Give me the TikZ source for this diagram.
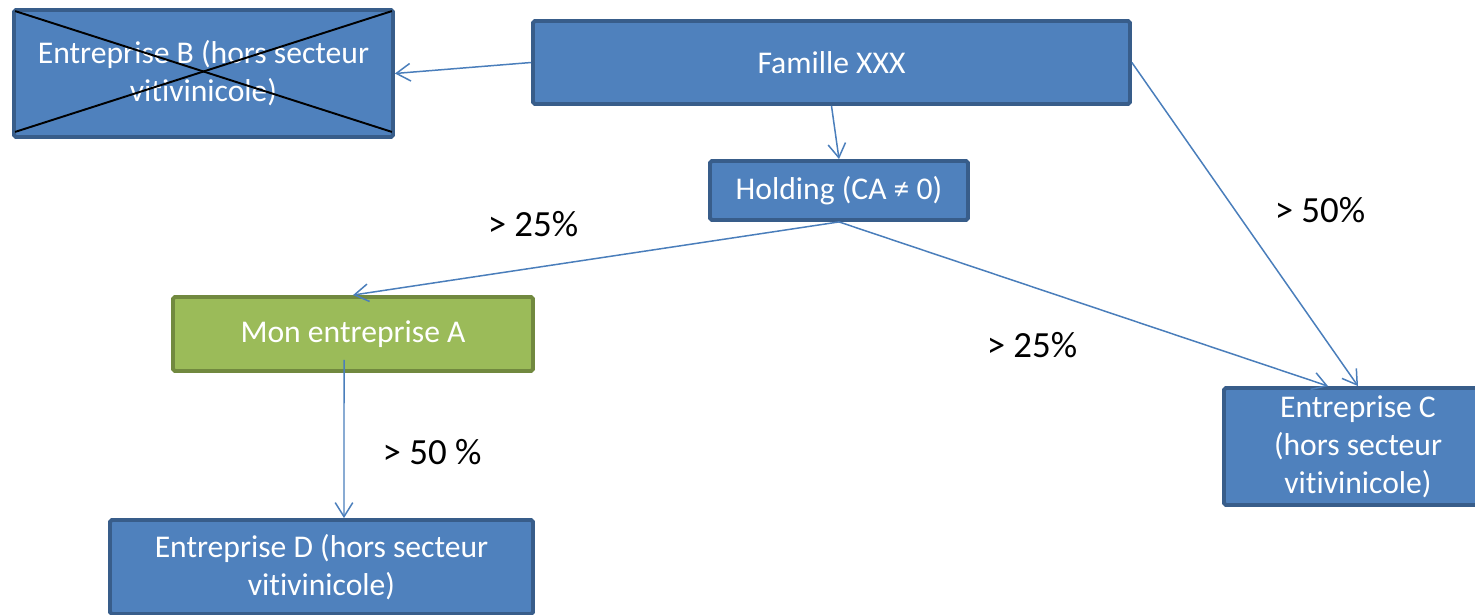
\documentclass[tikz,border=0pt]{standalone}
\usepackage{fontspec}
\setmainfont{Carlito}[Ligatures={NoCommon}]
\usepackage{tikz}
\usetikzlibrary{shapes,calc}
\usetikzlibrary{arrows.meta}
\definecolor{bleu}{HTML}{4F81BD}
\definecolor{bleufonce}{HTML}{385D8A}
\definecolor{vert}{HTML}{9BBB59}
\definecolor{vertfonce}{HTML}{71893F}
\definecolor{fleche}{HTML}{4A7EBB}
\tikzstyle{societe} = [rectangle, rounded corners=1pt, fill=bleu, draw=bleufonce, line width=2.2pt,
inner sep=0pt, text=white, align=center, font=\fontsize{18}{21.6}\selectfont]
\tikzstyle{maison} = [societe, fill=vert, draw=vertfonce]
\tikzstyle{taux} = [font=\fontsize{21}{25}\selectfont, inner sep=0pt]
\tikzstyle{arrow} = [draw=fleche, line width=0.85pt, -{Straight Barb[length=8pt,width=10pt]}]

\begin{document}
\begin{tikzpicture}[x=0.02cm, y=-0.02cm]
\useasboundingbox (0,0) rectangle (1475,615);
\node (b) at (203.5,73.5) [societe, minimum width=7.58cm, minimum height=2.54cm] {Entreprise B (hors secteur\\vitivinicole)};
\draw[line width=1.1pt] ([shift={(0.06cm,-0.06cm)}]b.north west) -- ([shift={(-0.06cm,0.14cm)}]b.south east);
\draw[line width=1.1pt] ([shift={(0.06cm,0.14cm)}]b.south west) -- ([shift={(-0.06cm,-0.06cm)}]b.north east);
\node (fam) at (831.5,62.5) [societe, minimum width=11.94cm, minimum height=1.66cm] {Famille XXX};
\node (hold) at (839,190.5) [societe, minimum width=5.16cm, minimum height=1.18cm] {Holding (CA ≠ 0)};
\node (a) at (353,334) [maison, minimum width=7.2cm, minimum height=1.48cm] {Mon entreprise A};
\node (d) at (321.5,567) [societe, minimum width=8.46cm, minimum height=1.88cm] {Entreprise D (hors secteur\\vitivinicole)};
\node (c) at (1358,446.5) [societe, minimum width=5.36cm, minimum height=2.34cm] {Entreprise C\\(hors secteur\\vitivinicole)};
\draw[arrow] (fam.west) -- (b.east);
\draw[arrow] (fam.south) -- (hold.north);
\draw[arrow] (hold.south) -- (a.north);
\draw[arrow] (hold.south) -- ([xshift=-0.6cm]c.north);
\draw[arrow] (fam.east) -- (c.north);
\draw[arrow] ([xshift=-0.18cm,yshift=0.26cm]a.south) -- ([xshift=0.45cm]d.north);
\node (t1) at (533,224) [taux] {> 25\%};
\node (t2) at (1320,210) [taux] {> 50\%};
\node (t3) at (1032,345) [taux] {> 25\%};
\node (t4) at (432,452) [taux] {> 50 \%};
\end{tikzpicture}
\end{document}
